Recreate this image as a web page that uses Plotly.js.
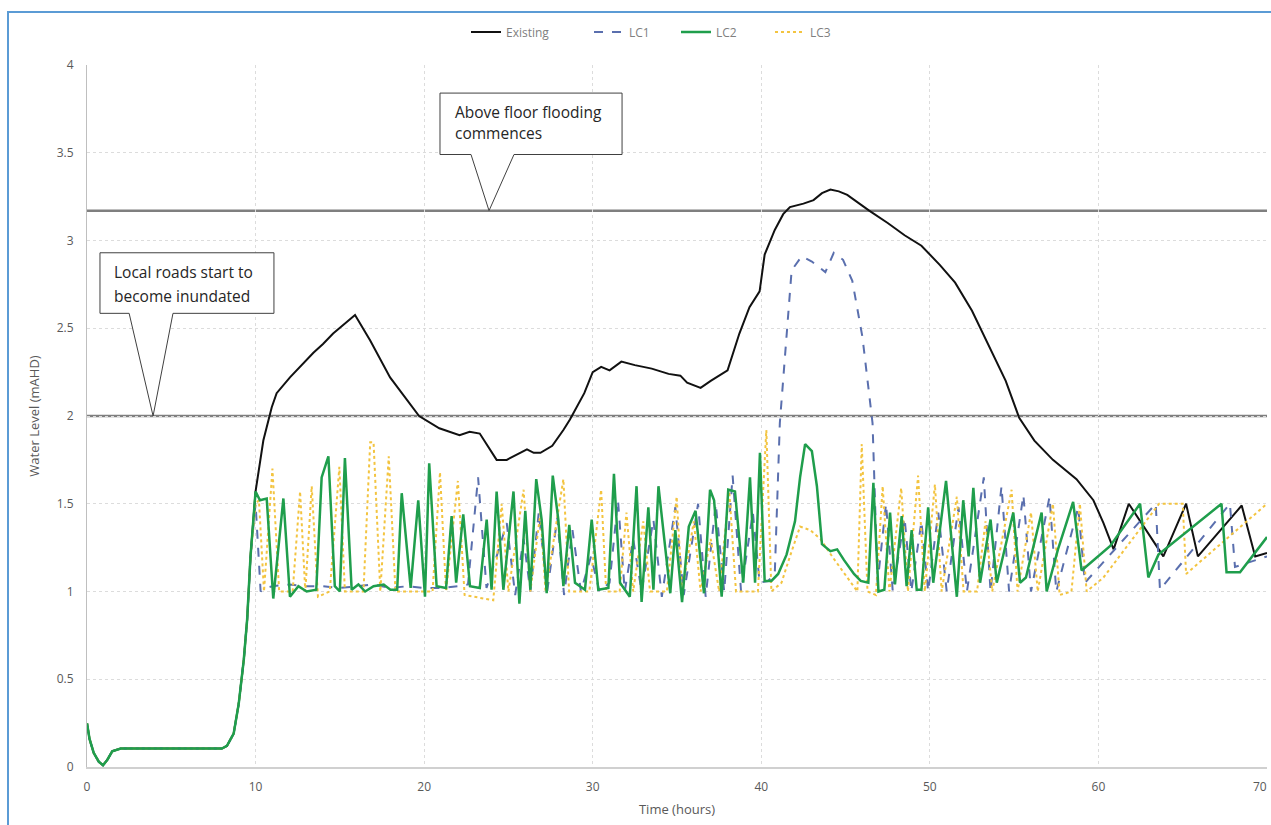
<!DOCTYPE html>
<html>
<head>
<meta charset="utf-8">
<script src="https://cdn.plot.ly/plotly-3.0.1.min.js"></script>
<style>
html,body{margin:0;padding:0;background:#fff;}
#wrap{position:relative;width:1271px;height:825px;overflow:hidden;}
#chart{position:absolute;left:0;top:0;width:1271px;height:825px;}
#frame{position:absolute;left:7px;top:11px;width:1280px;height:900px;border-left:2px solid #5b9bd5;border-top:2px solid #5b9bd5;pointer-events:none;}
</style>
</head>
<body>
<div id="wrap"><div id="chart"></div><div id="frame"></div></div>
<script>
// ---- data ----
const baseT = [0,0.15,0.4,0.7,0.95,1.2,1.5,2,5,8,8.3,8.7,9.0,9.3,9.5,9.7];
const baseY = [0.25,0.16,0.08,0.03,0.01,0.04,0.09,0.105,0.105,0.105,0.12,0.19,0.36,0.61,0.84,1.2];

const existingT = [10,10.46,10.96,11.25,12.04,13.43,14.0,14.6,15.9,16.8,
  17.98,19.0,19.7,20.9,22.1,22.7,23.3,24.3,24.9,26.1,
  26.5,26.9,27.6,28.26,28.65,29.5,30.0,30.5,31.0,31.7,
  32.5,33.5,34.5,35.2,35.6,36.4,37.0,38.0,38.7,39.3,
  39.9,40.2,40.8,41.3,41.7,42.5,43.1,43.6,44.1,44.6,
  45.1,46.4,47.5,48.5,49.5,50.6,51.5,52.5,53.5,54.5,
  55.3,56.2,57.3,58.7,59.7,60.3,60.9,61.8,63.85,65.2,
  65.9,68.5,69.3,70];
const existingY = [1.57,1.86,2.05,2.13,2.22,2.36,2.41,2.47,2.575,2.43,
  2.22,2.09,2.0,1.93,1.89,1.91,1.90,1.75,1.75,1.81,
  1.79,1.79,1.83,1.92,1.98,2.13,2.25,2.28,2.26,2.31,
  2.29,2.27,2.24,2.23,2.19,2.16,2.2,2.26,2.47,2.62,
  2.71,2.92,3.06,3.15,3.19,3.21,3.23,3.27,3.29,3.28,
  3.26,3.17,3.1,3.03,2.97,2.86,2.76,2.6,2.4,2.2,
  1.99,1.86,1.75,1.64,1.52,1.39,1.24,1.5,1.2,1.5,
  1.2,1.49,1.2,1.22];

const lc1T = [10,10.3,10.6,11,12,13,14,15,16,17,
  18,19,20,21,22,22.6,23.2,23.7,24.3,24.9,
  25.4,25.9,26.3,26.8,27.3,27.9,28.3,28.8,29.3,29.9,
  30.4,31.0,31.5,31.9,32.4,32.9,33.6,34.1,34.9,35.4,
  36.25,36.7,37.3,37.8,38.3,38.8,39.5,39.9,40.4,40.8,
  41.1,41.8,42.4,43.0,43.8,44.3,44.85,45.4,46.0,46.6,
  46.9,47.4,47.8,48.5,48.9,49.5,49.9,50.5,51.0,51.7,
  52.2,53.2,53.6,54.25,54.7,55.55,56.0,57.1,57.5,58.8,
  59.2,63.4,63.65,67.8,68.1,70];
const lc1Y = [1.5,1.0,1.02,1.03,1.04,1.03,1.03,1.02,1.03,1.04,
  1.02,1.03,1.02,1.02,1.03,1.04,1.65,1.02,1.2,1.39,
  0.98,1.3,1.0,1.45,1.0,1.42,0.98,1.35,1.0,1.2,
  1.0,1.05,1.52,1.0,1.3,1.0,1.41,0.97,1.48,0.98,
  1.5,0.97,1.5,1.0,1.66,1.0,1.45,1.05,1.06,1.1,
  1.96,2.83,2.91,2.88,2.82,2.93,2.89,2.77,2.45,1.96,
  1.05,1.5,1.0,1.42,1.0,1.4,1.0,1.45,1.0,1.48,
  1.0,1.65,1.0,1.6,1.0,1.55,1.0,1.54,1.0,1.48,
  1.05,1.5,1.01,1.5,1.14,1.2];

const lc2T = [10,10.26,10.66,11.05,11.65,12.04,12.54,13.03,13.6,13.92,
  14.32,14.7,15.0,15.3,15.7,16.1,16.5,17.0,17.6,18.0,
  18.4,18.67,19.2,19.65,20.05,20.3,20.74,21.3,21.63,21.9,
  22.32,22.72,23.3,23.71,24.0,24.3,24.7,25.3,25.65,26.0,
  26.3,26.65,26.97,27.27,27.63,27.96,28.26,28.61,28.95,29.54,
  29.94,30.33,30.93,31.26,31.62,32.2,32.6,32.9,33.3,33.6,
  33.9,34.6,34.9,35.3,35.7,36.1,36.6,36.96,37.2,37.65,
  38.04,38.44,38.93,39.33,39.63,39.92,40.2,40.6,41.0,41.5,
  42.0,42.3,42.6,43.0,43.3,43.6,44.1,44.5,44.9,45.5,
  45.9,46.35,46.65,46.95,47.3,47.64,47.93,48.33,48.62,48.92,
  49.22,49.5,49.9,50.2,50.96,51.6,51.98,52.3,52.58,52.98,
  53.6,53.97,54.95,55.35,55.7,56.63,56.93,57.6,58.5,59.0,
  60.7,62.47,62.96,63.56,67.3,67.6,68.4,70];
const lc2Y = [1.57,1.52,1.53,0.96,1.53,0.97,1.03,1.0,1.01,1.65,
  1.77,1.03,1.0,1.76,1.01,1.04,1.0,1.03,1.04,1.01,
  1.01,1.56,1.02,1.52,0.97,1.73,1.03,1.02,1.43,1.05,
  1.44,1.03,1.02,1.41,1.01,1.57,1.01,1.57,0.93,1.46,
  1.01,1.64,1.41,0.99,1.66,1.41,1.03,1.38,1.05,1.01,
  1.41,1.01,1.02,1.67,1.05,0.97,1.60,0.94,1.48,1.01,
  1.60,0.99,1.35,0.94,1.37,1.46,0.99,1.58,1.52,0.97,
  1.58,1.57,1.05,1.65,1.05,1.79,1.06,1.06,1.1,1.21,
  1.4,1.65,1.84,1.8,1.6,1.27,1.23,1.24,1.18,1.1,
  1.06,1.05,1.62,1.0,1.01,1.45,1.04,1.43,1.03,1.35,
  1.01,1.01,1.48,1.05,1.63,0.97,1.52,1.2,1.59,1.05,
  1.41,1.05,1.45,1.05,1.08,1.45,1.0,1.24,1.51,1.12,
  1.26,1.50,1.08,1.21,1.50,1.11,1.11,1.31];

const lc3T = [10,10.2,10.5,11.0,11.4,12.2,12.64,12.95,13.33,13.7,
  14.4,14.97,15.3,16.4,16.8,17.0,17.4,17.9,18.3,20.5,
  20.94,21.3,22.0,22.4,24.1,24.6,25.0,25.9,26.3,26.9,
  27.2,28.26,28.6,29.8,30.5,30.8,31.6,32.0,32.4,33.0,
  33.4,34.4,34.98,35.3,36.0,36.4,37.0,37.5,38.1,38.5,
  39.8,40.3,40.6,41.2,41.7,42.3,42.9,43.5,44.2,44.8,
  45.3,45.7,45.96,46.3,46.8,47.2,47.6,48.3,48.7,49.3,
  49.7,50.3,50.7,51.6,52.0,52.8,53.3,53.7,54.85,55.2,
  56.0,56.4,57.3,57.7,58.4,58.9,59.3,60.3,63.6,65.0,
  65.2,70];
const lc3Y = [1.5,1.52,1.0,1.70,1.0,1.0,1.57,1.0,1.60,0.97,
  1.0,1.71,1.0,1.0,1.85,1.85,1.0,1.77,1.0,1.0,
  1.68,1.0,1.63,0.98,0.95,1.5,1.0,1.58,1.0,1.45,
  1.0,1.64,1.0,1.0,1.58,1.0,1.0,1.45,1.0,1.4,
  1.0,1.0,1.54,1.0,1.4,1.0,1.3,1.0,1.57,1.0,
  1.0,1.92,1.0,1.05,1.2,1.37,1.35,1.3,1.2,1.12,
  1.05,1.0,1.84,1.0,0.98,1.60,1.0,1.59,1.0,1.66,
  1.0,1.61,1.0,1.54,1.0,1.0,1.4,1.0,1.58,1.0,
  1.45,1.0,1.5,0.98,1.0,1.5,1.0,1.08,1.5,1.5,
  1.1,1.5];

const thresholdLevels = [2.0, 3.17];
const xTickVals = [0,10,20,30,40,50,60,70];
const xTickText = ["0","10","20","30","40","50","60",""];
const xLastTick = "70";
const yTickVals = [0,0.5,1,1.5,2,2.5,3,3.5,4];
const yTickText = ["0","0.5","1","1.5","2","2.5","3","3.5","4"];
const calloutRoads = ["Local roads start to","become inundated"];
const calloutFloor = ["Above floor flooding","commences"];

// ---- build ----
const full = (t, y) => ({x: baseT.concat(t), y: baseY.concat(y)});
const ex = full(existingT, existingY);
const s1 = full(lc1T, lc1Y);
const s2 = full(lc2T, lc2Y);
const s3 = full(lc3T, lc3Y);

const traces = [
  {x: ex.x, y: ex.y, name: 'Existing', mode: 'lines', legend: 'legend',
   line: {color: '#111111', width: 2}},
  {x: s1.x, y: s1.y, name: 'LC1', mode: 'lines', legend: 'legend2',
   line: {color: '#5a6fae', width: 2, dash: 'dash'}},
  {x: s3.x, y: s3.y, name: 'LC3', mode: 'lines', legend: 'legend4',
   line: {color: '#f3c440', width: 2, dash: 'dot'}},
  {x: s2.x, y: s2.y, name: 'LC2', mode: 'lines', legend: 'legend3',
   line: {color: '#1f9e4c', width: 2.5}}
];

const shapes = thresholdLevels.map(v => ({
  type: 'line', xref: 'x', yref: 'y', x0: 0, x1: 70, y0: v, y1: v,
  line: {color: '#7f7f7f', width: 2.5}, layer: 'below'
}));

function callout(l, r, t, b, pl, pr, tx, ty) {
  return {
    type: 'path', xref: 'x', yref: 'y', layer: 'above',
    path: `M ${l},${t} L ${r},${t} L ${r},${b} L ${pr},${b} L ${tx},${ty} L ${pl},${b} L ${l},${b} Z`,
    fillcolor: '#ffffff', line: {color: '#404040', width: 1}
  };
}
shapes.push(callout(0.77, 11.09, 2.93, 2.585, 2.5, 5.1, 3.92, thresholdLevels[0]));
shapes.push(callout(20.94, 31.74, 3.84, 3.49, 22.78, 25.33, 23.85, thresholdLevels[1]));

const annFont = {family: 'Open Sans, sans-serif', size: 15.5, color: '#262626'};
const annotations = [
  {x: 1.5, y: 2.82, text: calloutRoads[0]},
  {x: 1.5, y: 2.685, text: calloutRoads[1]},
  {x: 21.7, y: 3.735, text: calloutFloor[0]},
  {x: 21.7, y: 3.61, text: calloutFloor[1]}
].map(a => Object.assign(a, {xref: 'x', yref: 'y', xanchor: 'left', yanchor: 'middle',
  showarrow: false, font: annFont}));

const tickFont = {family: 'Open Sans, sans-serif', size: 12, color: '#595959'};
// last x tick label kept inside the page edge
annotations.push({xref: 'paper', yref: 'paper', x: 1.002, xanchor: 'right',
  y: -0.028, yanchor: 'middle', showarrow: false, text: xLastTick, font: tickFont});

const legFont = {family: 'Open Sans, sans-serif', size: 12, color: '#7f7f7f'};
const legAt = px => ({orientation: 'h', x: (px - 87) / 1180, xanchor: 'left', y: 1.047, yanchor: 'middle',
  font: legFont, bgcolor: 'rgba(0,0,0,0)', borderwidth: 0});

const layout = {
  width: 1271, height: 825,
  margin: {l: 87, r: 4, t: 65, b: 58},
  paper_bgcolor: '#ffffff', plot_bgcolor: '#ffffff',
  showlegend: true,
  legend: legAt(466),
  legend2: legAt(589),
  legend3: legAt(676),
  legend4: legAt(770),
  xaxis: {range: [0, 70], tickvals: xTickVals, ticktext: xTickText,
    showgrid: true, gridcolor: '#dcdcdc', griddash: 'dot', gridwidth: 1,
    showline: true, linecolor: '#d0d0d0', linewidth: 2, zeroline: false,
    ticks: '', tickfont: tickFont, automargin: false, ticklabelstandoff: 8,
    title: {text: 'Time (hours)', font: {family: 'Open Sans, sans-serif', size: 13, color: '#595959'}, standoff: 10}},
  yaxis: {range: [0, 4], tickvals: yTickVals, ticktext: yTickText,
    showgrid: true, gridcolor: '#dcdcdc', griddash: 'dot', gridwidth: 1,
    showline: true, linecolor: '#bfbfbf', linewidth: 1, zeroline: false,
    ticks: '', tickfont: tickFont, automargin: false, ticklabelstandoff: 10,
    title: {text: 'Water Level (mAHD)', font: {family: 'Open Sans, sans-serif', size: 13, color: '#595959'}, standoff: 14}},
  shapes: shapes,
  annotations: annotations
};

Plotly.newPlot('chart', traces, layout, {displayModeBar: false, staticPlot: true});
</script>
</body>
</html>
